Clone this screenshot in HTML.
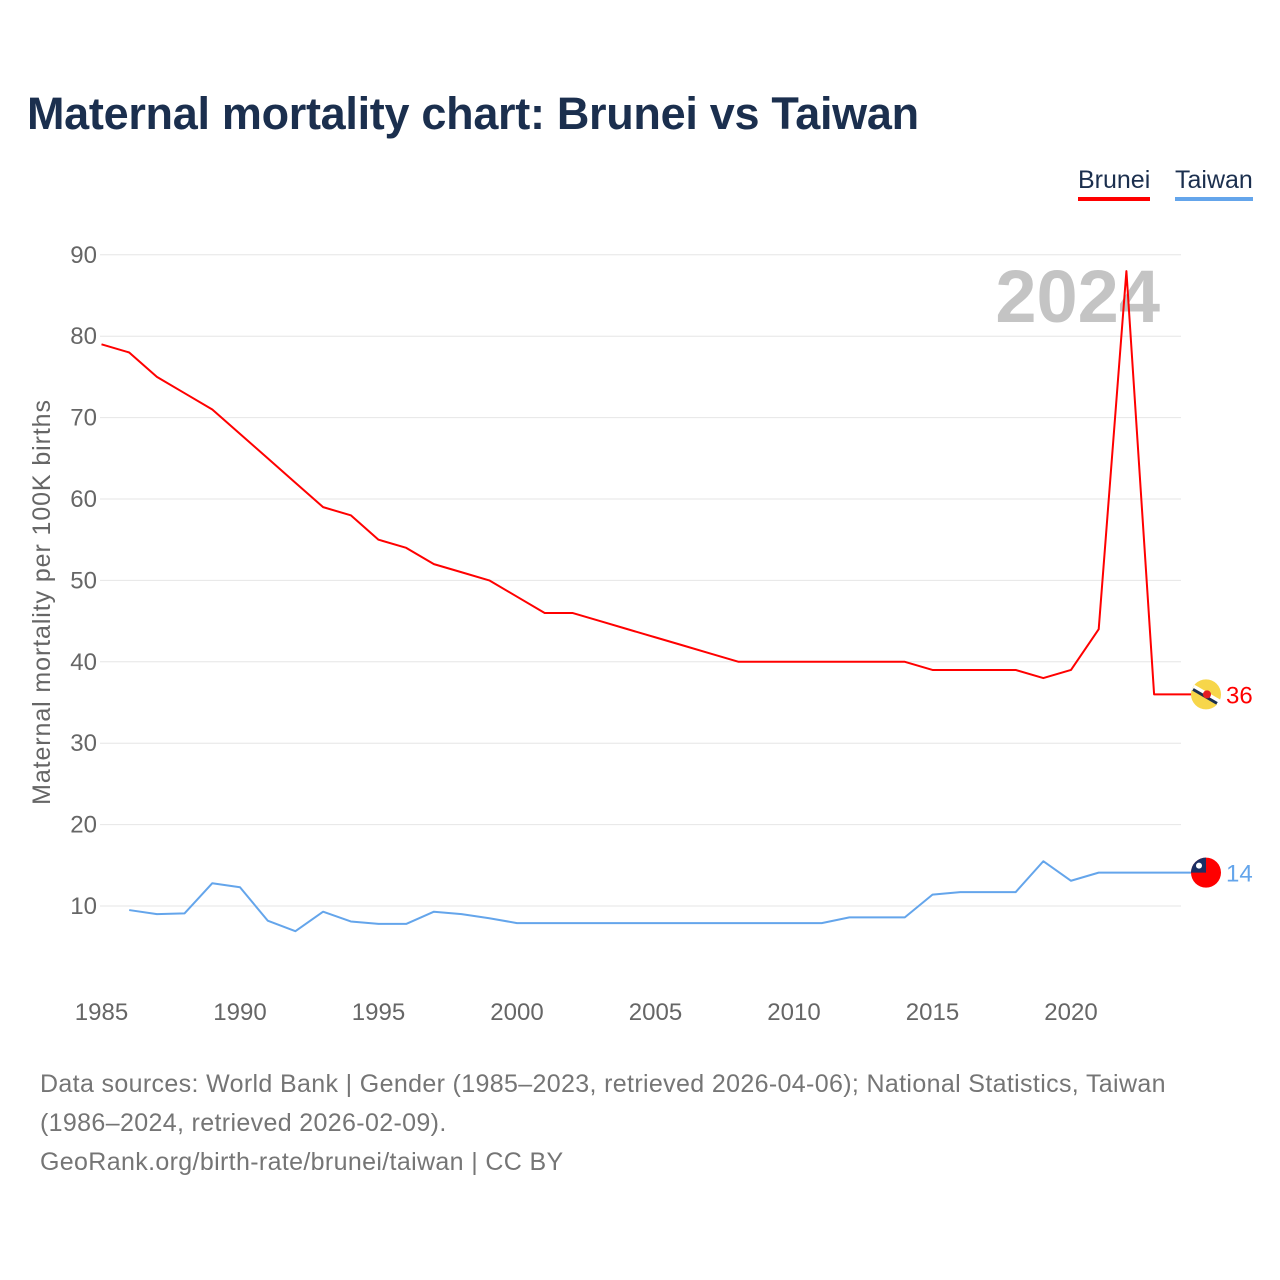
<!DOCTYPE html>
<html><head><meta charset="utf-8">
<style>
body{margin:0;background:#fff;font-family:"Liberation Sans",sans-serif;}
#wrap{position:relative;width:1280px;height:1280px;overflow:hidden;}
h1{position:absolute;left:27px;top:88px;margin:0;font-size:45px;font-weight:bold;color:#1b2f4e;letter-spacing:-0.3px;}
.leg{position:absolute;top:166px;font-size:25px;color:#1b2f4e;padding-bottom:2px;}
.foot{position:absolute;left:40px;top:1065px;font-size:25px;letter-spacing:0.35px;color:#757575;line-height:39px;}
</style></head><body>
<div id="wrap">
<h1>Maternal mortality chart: Brunei vs Taiwan</h1>
<div class="leg" style="left:1078px;border-bottom:4px solid #ff0000">Brunei</div>
<div class="leg" style="left:1175px;border-bottom:4px solid #64a5eb">Taiwan</div>
<svg id="chart" width="1280" height="1280" style="position:absolute;left:0;top:0"></svg>
<div class="foot">Data sources: World Bank | Gender (1985–2023, retrieved 2026-04-06); National Statistics, Taiwan<br>(1986–2024, retrieved 2026-02-09).<br>GeoRank.org/birth-rate/brunei/taiwan | CC BY</div>
</div>
<script>
const bruneiYears=[1985,1986,1987,1988,1989,1990,1991,1992,1993,1994,1995,1996,1997,1998,1999,2000,2001,2002,2003,2004,2005,2006,2007,2008,2009,2010,2011,2012,2013,2014,2015,2016,2017,2018,2019,2020,2021,2022,2023];
const bruneiValues=[79,78,75,73,71,68,65,62,59,58,55,54,52,51,50,48,46,46,45,44,43,42,41,40,40,40,40,40,40,40,39,39,39,39,38,39,44,88,36];
const taiwanYears=[1986,1987,1988,1989,1990,1991,1992,1993,1994,1995,1996,1997,1998,1999,2000,2001,2002,2003,2004,2005,2006,2007,2008,2009,2010,2011,2012,2013,2014,2015,2016,2017,2018,2019,2020,2021,2022,2023,2024];
const taiwanValues=[9.5,9.0,9.1,12.8,12.3,8.2,6.9,9.3,8.1,7.8,7.8,9.3,9.0,8.5,7.9,7.9,7.9,7.9,7.9,7.9,7.9,7.9,7.9,7.9,7.9,7.9,8.6,8.6,8.6,11.4,11.7,11.7,11.7,15.5,13.1,14.1,14.1,14.1,14.1];
const yTicks=[10,20,30,40,50,60,70,80,90];
const xTicks=[1985,1990,1995,2000,2005,2010,2015,2020];

const NS="http://www.w3.org/2000/svg";
const svg=document.getElementById('chart');
const x=y=>101.5+(y-1985)*27.7;
const yS=v=>906-(v-10)*8.14;
function mk(t,a,p){const e=document.createElementNS(NS,t);for(const k in a)e.setAttribute(k,a[k]);(p||svg).appendChild(e);return e;}
yTicks.forEach(v=>{
  const g=mk('line',{x1:100,x2:1181,y1:yS(v),y2:yS(v),stroke:'#e6e6e6','stroke-width':1});
  
  
  const t=mk('text',{x:97,y:yS(v)+8,'text-anchor':'end','font-size':24,fill:'#666'});
  t.textContent=v;
  
  
});
xTicks.forEach(v=>{
  const t=mk('text',{x:x(v),y:1020,'text-anchor':'middle','font-size':24,fill:'#666'});
  t.textContent=v;
  
  
});
const yt=mk('text',{transform:'translate(50,602) rotate(-90)','text-anchor':'middle','font-size':25,'letter-spacing':'0.9',fill:'#666'});
yt.textContent='Maternal mortality per 100K births';


const yr=mk('text',{x:1160,y:322,'text-anchor':'end','font-size':74,'font-weight':'bold',fill:'#c4c4c4'});
yr.textContent='2024';


function series(years,vals,col,name){
  let pts=years.map((yy,i)=>x(yy)+','+yS(vals[i]));
  pts.push('1195,'+yS(vals[vals.length-1]));
  const p=mk('polyline',{points:pts.join(' '),fill:'none',stroke:col,'stroke-width':2,'stroke-linejoin':'round'});
  
  
  const ly=yS(vals[vals.length-1]);
  const t=mk('text',{x:1226,y:ly+9,'font-size':24,fill:col});
  t.textContent=Math.round(vals[vals.length-1]);
  
  
  return ly;
}
const by=series(bruneiYears,bruneiValues,'#ff0000','brunei');
const ty=series(taiwanYears,taiwanValues,'#64a5eb','taiwan');
const f1=mk('g',{});


mk('circle',{cx:1206,cy:by,r:15,fill:'#f7d64a'},f1);
mk('line',{x1:1193,y1:by-7,x2:1219,y2:by+8,stroke:'#fff','stroke-width':6},f1);
mk('line',{x1:1193,y1:by-5,x2:1217,y2:by+9,stroke:'#1b2f4e','stroke-width':3},f1);
mk('circle',{cx:1207,cy:by,r:4,fill:'#e31b23'},f1);
const f2=mk('g',{});


mk('circle',{cx:1206,cy:ty,r:15,fill:'#fe0000'},f2);
mk('path',{d:`M1206 ${ty} L1206 ${ty-15} A15 15 0 0 0 1191 ${ty} Z`,fill:'#1b2f64'},f2);
mk('circle',{cx:1199,cy:ty-7,r:3,fill:'#fff'},f2);
</script>
</body></html>
